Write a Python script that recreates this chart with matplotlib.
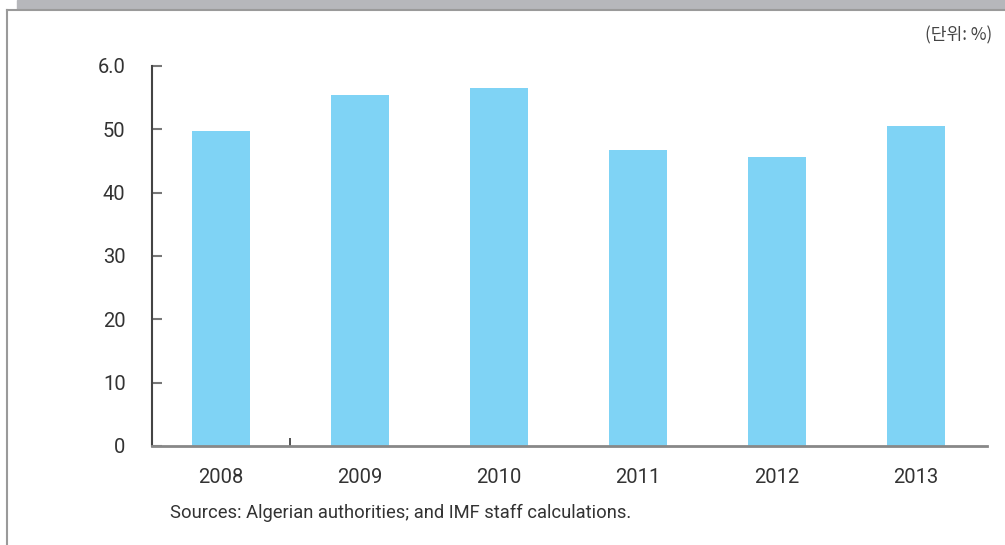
import matplotlib.pyplot as plt
from matplotlib.patches import Rectangle
from matplotlib.lines import Line2D

# 데이터
years = ['2008', '2009', '2010', '2011', '2012', '2013']
values = [49.7, 55.4, 56.5, 46.7, 45.7, 50.5]
yticks = [0, 10, 20, 30, 40, 50, 60]
ytick_labels = ['0', '10', '20', '30', '40', '50', '6.0']

plt.rcParams['font.family'] = ['Roboto', 'DejaVu Sans']

fig = plt.figure(figsize=(10.05, 5.45), dpi=100)
ax = fig.add_axes([0.1512, 0.1817, 0.8309, 0.6972])

x = range(len(years))
ax.bar(x, values, width=0.42, color='#7fd3f5', zorder=2)

ax.set_xlim(-0.495, 5.509)
ax.set_ylim(0, 60)

ax.set_yticks(yticks)
ax.set_yticklabels(ytick_labels)
ax.set_xticks(list(x))
ax.set_xticklabels(years)
ax.set_xticks([0.5], minor=True)

ax.tick_params(axis='y', direction='in', length=7.5, width=1.5, color='#777777',
               pad=19, labelsize=14.5, labelcolor='#333333')
ax.tick_params(axis='x', which='major', length=0, pad=16, labelsize=14.5,
               labelcolor='#333333')
ax.tick_params(axis='x', which='minor', direction='in', length=6, width=1.2,
               color='#333333')

for s in ['top', 'right']:
    ax.spines[s].set_visible(False)
ax.spines['left'].set_color('#444444')
ax.spines['left'].set_linewidth(1.5)
ax.spines['bottom'].set_color('#888888')
ax.spines['bottom'].set_linewidth(2)
ax.spines['bottom'].set_zorder(3)

# 상단 회색 띠와 테두리
fig.patches.append(Rectangle((17 / 1005, 1 - 9 / 545), 1, 9 / 545,
                             transform=fig.transFigure, color='#b6b7bb'))
fig.lines.append(Line2D([7 / 1005, 1], [1 - 10 / 545, 1 - 10 / 545],
                        transform=fig.transFigure, color='#9a9a9a', lw=1.5))
fig.lines.append(Line2D([7 / 1005, 7 / 1005], [0, 1 - 10 / 545],
                        transform=fig.transFigure, color='#9a9a9a', lw=1.5))

fig.text(992 / 1005, 1 - 35 / 545, '(단위: %)', ha='right', va='center',
         fontsize=12.3, color='#444444', family=['Noto Sans CJK KR', 'DejaVu Sans'])
fig.text(170 / 1005, 1 - 513 / 545, 'Sources: Algerian authorities; and IMF staff calculations.',
         ha='left', va='center', fontsize=13.2, color='#333333')

fig.savefig('out.png', dpi=100)
